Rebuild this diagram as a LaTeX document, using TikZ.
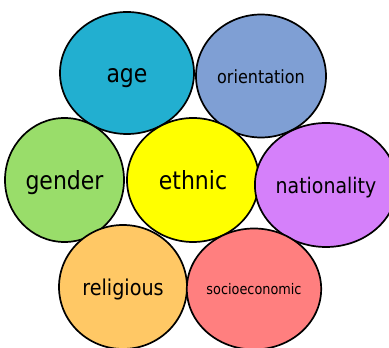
\documentclass[tikz,border=0pt]{standalone}
\usepackage{fontspec}
\setmainfont{DejaVu Sans}[FakeStretch=0.88]
\usetikzlibrary{shapes.geometric}
\definecolor{cage}{HTML}{22AFD0}
\definecolor{corient}{HTML}{7F9FD4}
\definecolor{cgender}{HTML}{99DD6A}
\definecolor{cethnic}{HTML}{FFFF00}
\definecolor{cnation}{HTML}{D580FA}
\definecolor{creli}{HTML}{FFC865}
\definecolor{csocio}{HTML}{FF7F7F}
\newcommand{\fs}[1]{\fontsize{#1}{#1}\selectfont}
\tikzset{
  bubble/.style n args={5}{ellipse, draw=black, line width=1.7pt, inner sep=0pt,
    fill=#1, minimum width=#2, minimum height=#3, text=black,
    font=\fs{#4}, text height=#5, text depth=0pt},
}
\begin{document}
\begin{tikzpicture}[x=1pt,y=1pt]
\useasboundingbox (0,0) rectangle (389,348);
\node[bubble={cage}{134pt}{122pt}{25}{19.5pt}] (age) at (127,275) {age};
\node[bubble={corient}{130pt}{123pt}{18.2}{14.2pt}] (orientation) at (261,272) {orientation};
\node[bubble={cgender}{119pt}{124pt}{25}{19.5pt}] (gender) at (64.5,168) {gender};
\node[bubble={cethnic}{132pt}{124pt}{25}{19.5pt}] (ethnic) at (193,168) {ethnic};
\node[bubble={cnation}{128pt}{124pt}{21.5}{16.8pt}] (nationality) at (326,163) {nationality};
\node[bubble={creli}{128pt}{124pt}{21.8}{17pt}] (religious) at (123,61) {religious};
\node[bubble={csocio}{130pt}{121pt}{14.6}{11.4pt}] (socioeconomic) at (254,59) {socioeconomic};
\end{tikzpicture}
\end{document}
